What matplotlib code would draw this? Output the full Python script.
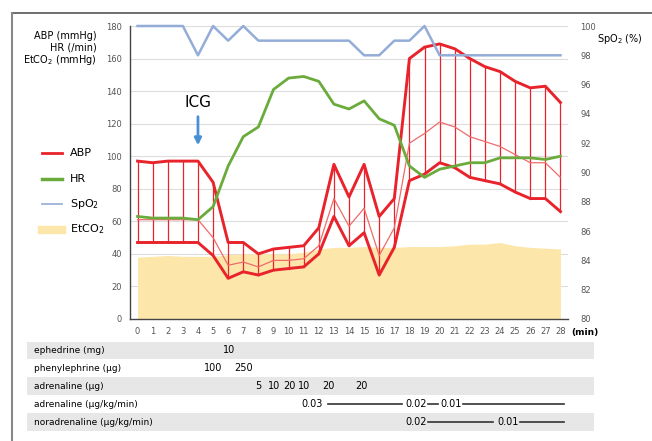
import numpy as np
import matplotlib
matplotlib.use("Agg")
import matplotlib.pyplot as plt
from matplotlib.lines import Line2D

# time axis (min)
minutes = list(range(29))

abp_sys = [97, 96, 97, 97, 97, 84, 47, 47, 40, 43, 44, 45, 56, 95, 75, 95, 63, 74,
           160, 167, 169, 166, 160, 155, 152, 146, 142, 143, 133]
abp_dia = [47, 47, 47, 47, 47, 39, 25, 29, 27, 30, 31, 32, 40, 63, 45, 53, 27, 44,
           85, 89, 96, 93, 87, 85, 83, 78, 74, 74, 66]
abp_mean = [61, 61, 61, 61, 61, 50, 33, 35, 32, 36, 36, 37, 45, 74, 57, 68, 39, 56,
            108, 114, 121, 118, 112, 109, 106, 101, 96, 96, 87]
hr = [63, 62, 62, 62, 61, 69, 94, 112, 118, 141, 148, 149, 146, 132, 129, 134, 123, 119,
      94, 87, 92, 94, 96, 96, 99, 99, 99, 98, 100]
spo2 = [100, 100, 100, 100, 98, 100, 99, 100, 99, 99, 99, 99, 99, 99, 99, 98, 98, 99,
        99, 100, 98, 98, 98, 98, 98, 98, 98, 98, 98]
etco2 = [38, 38.5, 39, 38.5, 38.5, 38.5, 39.5, 40, 40, 40, 40, 41, 43, 44, 44, 44.5, 44, 44,
         44.5, 44.5, 44.5, 45, 46, 46, 47, 45, 44, 43.5, 43]

left_ticks = [0, 20, 40, 60, 80, 100, 120, 140, 160, 180]
right_ticks = [80, 82, 84, 86, 88, 90, 92, 94, 96, 98, 100]

# drug table rows, dose labels (time, text) and continuous-infusion lines (start, end)
drug_rows = ["ephedrine (mg)", "phenylephrine (μg)", "adrenaline (μg)",
             "adrenaline (μg/kg/min)", "noradrenaline (μg/kg/min)"]
drug_texts = [
    [(6, "10")],
    [(5, "100"), (7, "250")],
    [(8, "5"), (9, "10"), (10, "20"), (11, "10"), (12.6, "20"), (14.8, "20")],
    [(11.5, "0.03"), (18.4, "0.02"), (20.7, "0.01")],
    [(18.4, "0.02"), (24.5, "0.01")],
]
drug_lines = [
    [], [], [],
    [(12.6, 17.5), (19.2, 19.9), (21.5, 28.2)],
    [(19.2, 23.5), (25.3, 28.2)],
]

RED = "#e8232b"
GREEN = "#6aab3c"
BLUE = "#93acd8"
FILL = "#fde6aa"
GRAY_TXT = "#555555"

fig = plt.figure(figsize=(6.52, 4.41), dpi=100)
W, H = 652, 441


def fx(px):
    return px / W


def fy(py):
    return 1 - py / H


ax = fig.add_axes([fx(130), fy(319), fx(568) - fx(130), fy(26) - fy(319)])
ax.set_xlim(-0.5, 28.5)
ax.set_ylim(0, 180)

# EtCO2 area
ax.fill_between(minutes, 0, etco2, color=FILL, lw=0, zorder=1)

# grid
for v in left_ticks[1:]:
    ax.axhline(v, color="#dcdcdc", lw=0.8, zorder=0)

# ABP band
for t, s, d in zip(minutes, abp_sys, abp_dia):
    ax.plot([t, t], [d, s], color=RED, lw=0.9, zorder=3)
ax.plot(minutes, abp_mean, color="#ee6b6b", lw=0.9, zorder=3)
ax.plot(minutes, abp_sys, color=RED, lw=2.1, zorder=4)
ax.plot(minutes, abp_dia, color=RED, lw=2.1, zorder=4)

ax.plot(minutes, hr, color=GREEN, lw=2.0, zorder=5)

ax.set_yticks(left_ticks)
ax.set_xticks(minutes)
ax.tick_params(length=0, labelsize=6, colors=GRAY_TXT, pad=6)
for side in ["top", "right"]:
    ax.spines[side].set_visible(False)
ax.spines["left"].set_color("#444444")
ax.spines["bottom"].set_color("#444444")
ax.spines["left"].set_linewidth(1.0)
ax.spines["bottom"].set_linewidth(1.0)

ax2 = ax.twinx()
ax2.set_ylim(80, 100)
ax2.plot(minutes, spo2, color=BLUE, lw=1.8, zorder=6, clip_on=False)
ax2.set_yticks(right_ticks)
ax2.tick_params(length=0, labelsize=6, colors=GRAY_TXT, pad=9)
for side in ["top", "right", "left", "bottom"]:
    ax2.spines[side].set_visible(False)

# axis titles
fig.text(fx(97), fy(36), "ABP (mmHg)", ha="right", va="center", fontsize=7)
fig.text(fx(97), fy(48), "HR (/min)", ha="right", va="center", fontsize=7)
fig.text(fx(97), fy(60), "EtCO$_2$ (mmHg)", ha="right", va="center", fontsize=7)
fig.text(fx(597), fy(39), "SpO$_2$ (%)", ha="left", va="center", fontsize=7)
fig.text(fx(571), fy(332), "(min)", ha="left", va="center", fontsize=6.5, fontweight="bold")

# ICG marker
ax.text(4, 133, "ICG", ha="center", va="center", fontsize=11)
ax.annotate("", xy=(4, 105), xytext=(4, 126),
            arrowprops=dict(arrowstyle="-|>", color="#4a8fd6", lw=2, mutation_scale=10))

# legend
leg_items = [("ABP", dict(color=RED, lw=2)), ("HR", dict(color=GREEN, lw=2.5)),
             ("SpO$_2$", dict(color=BLUE, lw=1.2)), ("EtCO$_2$", dict(color=FILL, lw=6))]
for i, (name, kw) in enumerate(leg_items):
    y = fy(153 + i * 25.5)
    fig.add_artist(Line2D([fx(42), fx(62)], [y, y], **kw))
    fig.text(fx(70), y, name, ha="left", va="center", fontsize=8)

# drug table
row_top = 341.5
row_h = 17.9
for i, name in enumerate(drug_rows):
    y0 = row_top + i * row_h
    if i % 2 == 0:
        fig.patches.append(plt.Rectangle((fx(27), fy(y0 + row_h)), fx(594) - fx(27),
                                         row_h / H, transform=fig.transFigure,
                                         color="#e7e7e7", lw=0, zorder=0))
    yc = fy(y0 + row_h / 2)
    fig.text(fx(34), yc, name, ha="left", va="center", fontsize=6.5)
    for t, txt in drug_texts[i]:
        xp = 138 + t * 15.1
        fig.text(fx(xp), yc, txt, ha="center", va="center", fontsize=7)
    for a, b in drug_lines[i]:
        fig.add_artist(Line2D([fx(138 + a * 15.1), fx(138 + b * 15.1)], [yc, yc],
                              color="#333333", lw=1.2))

# frame (top and left border)
fig.add_artist(Line2D([fx(12), 1], [fy(13), fy(13)], color="#555555", lw=1.2))
fig.add_artist(Line2D([fx(12), fx(12)], [fy(13), 0], color="#888888", lw=1.5))

fig.savefig("out.png", dpi=100)
